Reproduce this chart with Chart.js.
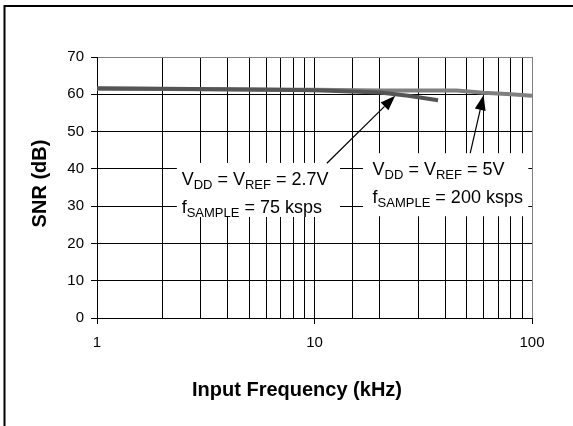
<!DOCTYPE html>
<html>
<head>
<meta charset="utf-8">
<script src="https://cdn.jsdelivr.net/npm/chart.js@4"></script>
<style>
  html, body { margin: 0; padding: 0; background: #fff; }
  canvas { display: block; }
</style>
</head>
<body>
<canvas id="chart" width="573" height="426"></canvas>
<script>
// SNR vs input frequency, two supply / sample-rate conditions
const freq5V = [1, 2, 5, 10, 20, 30, 45, 60, 80, 100]
const snr5V = [61.5, 61.4, 61.3, 61.2, 61.0, 61.0, 61.0, 60.4, 60.0, 59.6]

const freq27V = [1, 2, 5, 10, 20, 27, 37]
const snr27V = [61.6, 61.5, 61.3, 61.1, 60.5, 59.6, 58.4]

const xLabels = [1, 10, 100]
const yMin = 0
const yMax = 70
const yStep = 10

const xTitle = 'Input Frequency (kHz)'
const yTitle = 'SNR (dB)'

// callouts: text lines as [text, subscript] pieces, anchored in data units
const notes = [
  {
    box: [2.33, 41.6, 13.1, 27.1],
    at: [2.45, 35.8, 28.2],
    lines: [
      [['V'], ['DD', 1], [' = V'], ['REF', 1], [' = 2.7V']],
      [['f'], ['SAMPLE', 1], [' = 75 ksps']],
    ],
    arrow: [11.4, 41.5, 23.5, 59.6],
  },
  {
    box: [16.7, 44.2, 96.2, 27.3],
    at: [18.5, 38.3, 30.8],
    lines: [
      [['V'], ['DD', 1], [' = V'], ['REF', 1], [' = 5V']],
      [['f'], ['SAMPLE', 1], [' = 200 ksps']],
    ],
    arrow: [52, 44.2, 59.9, 59.8],
  },
]

const FONT = '"Liberation Sans", Arial, sans-serif'

const pts = (xs, ys) => xs.map((x, i) => ({ x: x, y: ys[i] }))

const frame = {
  id: 'frame',
  beforeDraw(chart) {
    const ctx = chart.ctx
    ctx.save()
    ctx.fillStyle = '#fff'
    ctx.fillRect(0, 0, chart.width, chart.height)
    ctx.strokeStyle = '#000'
    ctx.lineWidth = 2
    ctx.beginPath()
    ctx.moveTo(4.5, chart.height)
    ctx.lineTo(4.5, 6)
    ctx.lineTo(chart.width, 6)
    ctx.stroke()
    ctx.restore()
  },
  afterDraw(chart) {
    const ctx = chart.ctx
    const area = chart.chartArea
    ctx.save()
    ctx.fillStyle = '#000'
    ctx.font = 'bold 20px ' + FONT
    ctx.textAlign = 'center'
    ctx.textBaseline = 'middle'
    ctx.fillText(xTitle, 297, 390)
    ctx.translate(40, (area.top + area.bottom) / 2 - 4)
    ctx.rotate(-Math.PI / 2)
    ctx.fillText(yTitle, 0, 0)
    ctx.restore()
  },
}

function drawRich(ctx, pieces, x, y) {
  for (const [text, sub] of pieces) {
    ctx.font = (sub ? '13px ' : '18px ') + FONT
    ctx.fillText(text, x, y + (sub ? 4 : 0))
    x += ctx.measureText(text).width
  }
}

function drawArrow(ctx, x0, y0, x1, y1) {
  const ang = Math.atan2(y1 - y0, x1 - x0)
  const len = 15
  const half = 5.5
  const bx = x1 - len * Math.cos(ang)
  const by = y1 - len * Math.sin(ang)
  ctx.beginPath()
  ctx.moveTo(x0, y0)
  ctx.lineTo(bx, by)
  ctx.stroke()
  ctx.beginPath()
  ctx.moveTo(x1, y1)
  ctx.lineTo(bx + half * Math.sin(ang), by - half * Math.cos(ang))
  ctx.lineTo(bx - half * Math.sin(ang), by + half * Math.cos(ang))
  ctx.closePath()
  ctx.fill()
}

const callouts = {
  id: 'callouts',
  afterDatasetsDraw(chart) {
    const ctx = chart.ctx
    const xs = chart.scales.x
    const ys = chart.scales.y
    ctx.save()
    for (const n of notes) {
      const [bx0, by0, bx1, by1] = n.box
      const l = xs.getPixelForValue(bx0)
      const t = ys.getPixelForValue(by0)
      ctx.fillStyle = '#fff'
      ctx.fillRect(l, t, xs.getPixelForValue(bx1) - l, ys.getPixelForValue(by1) - t)

      ctx.fillStyle = '#000'
      ctx.textBaseline = 'alphabetic'
      ctx.textAlign = 'left'
      const tx = xs.getPixelForValue(n.at[0])
      n.lines.forEach((line, i) => {
        drawRich(ctx, line, tx, ys.getPixelForValue(n.at[1 + i]))
      })

      const [ax0, ay0, ax1, ay1] = n.arrow
      ctx.strokeStyle = '#000'
      ctx.lineWidth = 1.2
      drawArrow(ctx,
        xs.getPixelForValue(ax0), ys.getPixelForValue(ay0),
        xs.getPixelForValue(ax1), ys.getPixelForValue(ay1))
    }
    ctx.restore()
  },
}

new Chart(document.getElementById('chart'), {
  type: 'line',
  data: {
    datasets: [
      {
        label: 'VDD = VREF = 2.7V, fSAMPLE = 75 ksps',
        data: pts(freq27V, snr27V),
        borderColor: '#555555',
        borderWidth: 4,
        pointRadius: 0,
        order: 0,
      },
      {
        label: 'VDD = VREF = 5V, fSAMPLE = 200 ksps',
        data: pts(freq5V, snr5V),
        borderColor: '#808080',
        borderWidth: 4,
        pointRadius: 0,
        order: 1,
      },
    ],
  },
  options: {
    responsive: false,
    animation: false,
    layout: { padding: { top: 57, right: 41, left: 0, bottom: 0 } },
    plugins: {
      legend: false,
      tooltip: false,
    },
    scales: {
      x: {
        type: 'logarithmic',
        min: 1,
        max: 100,
        afterFit: (s) => { s.height = 108 },
        border: { color: '#000', width: 1 },
        grid: {
          color: (c) => (c.tick && c.tick.value === 100 ? '#808080' : '#000'),
          tickColor: (c) => (c.tick && xLabels.includes(c.tick.value) ? '#000' : 'rgba(0,0,0,0)'),
          tickLength: 6,
        },
        ticks: {
          autoSkip: false,
          maxRotation: 0,
          padding: 10,
          color: '#000',
          font: { family: FONT, size: 15 },
          callback: (v) => (xLabels.includes(v) ? String(v) : ''),
        },
      },
      y: {
        min: yMin,
        max: yMax,
        afterFit: (s) => { s.width = 97 },
        border: { color: '#000', width: 1 },
        grid: {
          color: (c) => (c.tick && c.tick.value === yMax ? '#808080' : '#000'),
          tickColor: '#000',
          tickLength: 6,
        },
        ticks: {
          stepSize: yStep,
          padding: 7,
          color: '#000',
          font: { family: FONT, size: 15 },
        },
      },
    },
  },
  plugins: [frame, callouts],
})
</script>
</body>
</html>
